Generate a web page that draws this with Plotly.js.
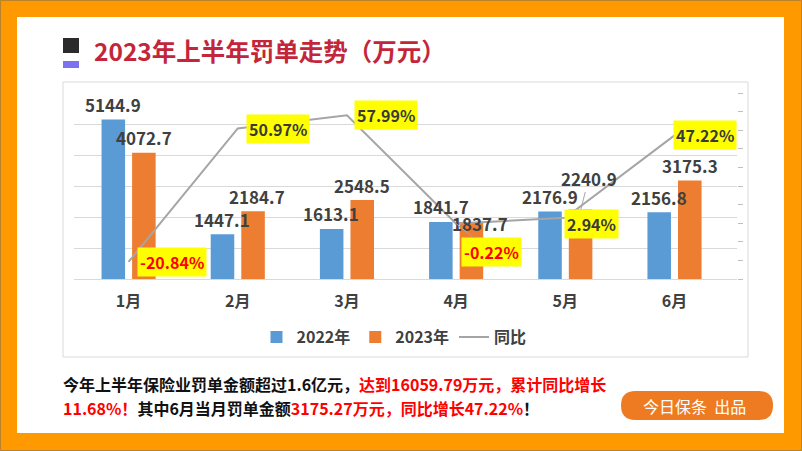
<!DOCTYPE html>
<html>
<head>
<meta charset="utf-8">
<script src="https://cdn.plot.ly/plotly-3.0.1.min.js"></script>
<style>
  html, body { margin: 0; padding: 0; background: #FF9900; }
  #chart { width: 802px; height: 451px; }
</style>
</head>
<body>
<div id="chart"></div>
<script>
// ---- data ----
const months = ['1月', '2月', '3月', '4月', '5月', '6月'];
const fines2022 = [5144.9, 1447.1, 1613.1, 1841.7, 2176.9, 2156.8];
const fines2023 = [4072.7, 2184.7, 2548.5, 1837.7, 2240.9, 3175.3];
const yoyPct = [-20.84, 50.97, 57.99, -0.22, 2.94, 47.22];
const seriesNames = ['2022年', '2023年', '同比'];
const titleText = '2023年上半年罚单走势（万元）';
const footLine1 = '今年上半年保险业罚单金额超过1.6亿元，<span style="color:#FF0000">达到16059.79万元，累计同比增长</span>';
const footLine2 = '<span style="color:#FF0000">11.68%！</span>其中6月当月罚单金额<span style="color:#FF0000">3175.27万元，同比增长47.22%</span>！';
const badgeText = '今日保条&nbsp;&nbsp;出品';

// ---- geometry helpers (page pixels -> paper coords) ----
const W = 802, H = 451;
const L = 74, R = 737, T = 93, B = 279;
const PX = p => (p - L) / (R - L);
const PY = p => (B - p) / (B - T);

const FONT = '"Noto Sans CJK SC", "Noto Sans", sans-serif';
const TXT = '#404040';
const BLUE = '#5B9BD5', ORANGE = '#ED7D31', GREY = '#A5A5A5';

const traces = [
  { type: 'bar', name: seriesNames[0], x: months, y: fines2022, marker: { color: BLUE }, hoverinfo: 'skip' },
  { type: 'bar', name: seriesNames[1], x: months, y: fines2023, marker: { color: ORANGE }, hoverinfo: 'skip' },
  { type: 'scatter', mode: 'lines', name: seriesNames[2], x: months, y: yoyPct, yaxis: 'y2',
    line: { color: GREY, width: 2 }, hoverinfo: 'skip' }
];

const annotations = [];

// bar value labels (label nudges are styling, not data)
const barNudge = { '1-1': [4, 0], '1-3': [8.5, -16] };
const barLeader = { '1-4': [8, -31.5] };
[fines2022, fines2023].forEach((vals, s) => {
  const off = s === 0 ? -15.5 : 15.5;
  vals.forEach((v, i) => {
    const key = s + '-' + i;
    const txt = v.toFixed(1);
    const font = { family: FONT, size: 17, color: TXT, weight: 'bold' };
    if (barLeader[key]) {
      annotations.push({ x: months[i], y: v, xref: 'x', yref: 'y', text: txt, font,
        showarrow: true, arrowhead: 0, arrowwidth: 1, arrowcolor: GREY,
        ax: barLeader[key][0], ay: barLeader[key][1], xshift: off });
    } else {
      const n = barNudge[key] || [0, 0];
      annotations.push({ x: months[i], y: v, xref: 'x', yref: 'y', text: txt, font,
        showarrow: false, xanchor: 'center', yanchor: 'middle',
        xshift: off + n[0], yshift: 15 + n[1] });
    }
  });
});

// percentage labels
const pctOffsets = [[43, 0], [40, 1], [39, 0], [35.5, 28.5], [26, 6.5], [30.5, 0]];
yoyPct.forEach((p, i) => {
  annotations.push({ x: months[i], y: p, xref: 'x', yref: 'y2',
    text: p.toFixed(2) + '%',
    font: { family: FONT, size: 16, color: p < 0 ? '#FF0000' : '#3A3A3A', weight: 'bold' },
    bgcolor: '#FFFF00', borderpad: 2,
    showarrow: true, arrowhead: 0, arrowwidth: 1,
    arrowcolor: i === 3 ? GREY : 'rgba(0,0,0,0)',
    ax: pctOffsets[i][0], ay: pctOffsets[i][1] });
});

// title
annotations.push({ xref: 'paper', yref: 'paper', x: PX(92), y: PY(50), xanchor: 'left', yanchor: 'middle',
  text: titleText, showarrow: false,
  font: { family: FONT, size: 24.5, color: '#C3263A', weight: 'bold' } });

// footnote (two separate lines)
[[footLine1, 384], [footLine2, 407.5]].forEach(([t, py]) => {
  annotations.push({ xref: 'paper', yref: 'paper', x: PX(61), y: PY(py), xanchor: 'left', yanchor: 'middle',
    align: 'left', text: t, showarrow: false,
    font: { family: FONT, size: 16, color: '#111111', weight: 'bold' } });
});

// badge text
annotations.push({ xref: 'paper', yref: 'paper', x: PX(694), y: PY(405.5), xanchor: 'center', yanchor: 'middle',
  text: badgeText, showarrow: false,
  font: { family: FONT, size: 16, color: '#FFFFFF' } });

// pill path for badge
function pill(x0, y0, x1, y1) {
  const r = (y1 - y0) / 2;
  const pts = [
    `M${PX(x0 + r)},${PY(y0)}`,
    `L${PX(x1 - r)},${PY(y0)}`,
    `Q${PX(x1)},${PY(y0)} ${PX(x1)},${PY(y0 + r)}`,
    `Q${PX(x1)},${PY(y1)} ${PX(x1 - r)},${PY(y1)}`,
    `L${PX(x0 + r)},${PY(y1)}`,
    `Q${PX(x0)},${PY(y1)} ${PX(x0)},${PY(y0 + r)}`,
    `Q${PX(x0)},${PY(y0)} ${PX(x0 + r)},${PY(y0)}`,
    'Z'
  ];
  return pts.join(' ');
}

const rect = (x0, y0, x1, y1, extra) => Object.assign({
  type: 'rect', xref: 'paper', yref: 'paper', x0: PX(x0), x1: PX(x1), y0: PY(y1), y1: PY(y0), layer: 'below'
}, extra);

const shapes = [
  rect(0.5, 0.5, 801.5, 450.5, { line: { color: '#B8822E', width: 1 }, fillcolor: 'rgba(0,0,0,0)' }),
  rect(17, 17, 784, 433, { line: { width: 0 }, fillcolor: '#FFFFFF' }),
  rect(63, 82, 748, 357, { line: { color: '#D9D9D9', width: 1 }, fillcolor: 'rgba(0,0,0,0)' }),
  rect(63, 38, 79, 53, { line: { width: 0 }, fillcolor: '#2B2B2B', layer: 'above' }),
  rect(63, 61, 79, 68, { line: { width: 0 }, fillcolor: '#7B72F2', layer: 'above' }),
  { type: 'path', xref: 'paper', yref: 'paper', path: pill(621, 391, 773, 420),
    fillcolor: '#EE7A22', line: { width: 0 }, layer: 'above' }
];

const layout = {
  width: W, height: H,
  margin: { l: L, r: W - R, t: T, b: H - B, pad: 0 },
  paper_bgcolor: '#FF9900',
  plot_bgcolor: 'rgba(0,0,0,0)',
  font: { family: FONT, color: TXT },
  barmode: 'group', bargap: 0.44, bargroupgap: 0.23,
  showlegend: true,
  legend: { orientation: 'h', x: PX(394), xanchor: 'center', y: PY(337), yanchor: 'middle',
    font: { family: FONT, size: 16, color: TXT, weight: 'bold' }, bgcolor: 'rgba(0,0,0,0)',
    itemwidth: 30, traceorder: 'normal' },
  xaxis: { type: 'category', showgrid: false, showline: true, linecolor: '#D9D9D9', linewidth: 1,
    ticks: '', ticklabelstandoff: 8,
    tickfont: { family: FONT, size: 16, color: TXT, weight: 'bold' }, fixedrange: true },
  yaxis: { range: [0, 6000], dtick: 1000, showgrid: true, gridcolor: '#D9D9D9', gridwidth: 1,
    showticklabels: false, zeroline: false, ticks: '', fixedrange: true },
  yaxis2: { overlaying: 'y', side: 'right', range: [-30, 70], dtick: 10, showgrid: false,
    zeroline: false, showticklabels: false, ticks: 'outside', ticklen: 5, tickcolor: '#BFBFBF',
    showline: false, fixedrange: true },
  annotations, shapes
};

Plotly.newPlot('chart', traces, layout, { staticPlot: true, displayModeBar: false });
</script>
</body>
</html>
